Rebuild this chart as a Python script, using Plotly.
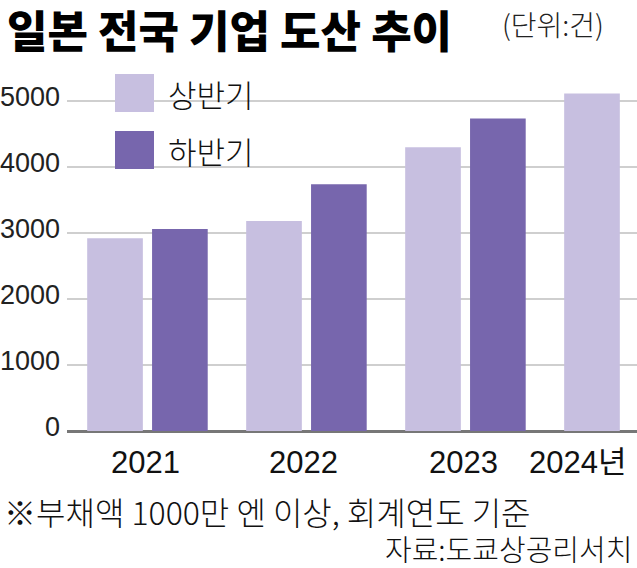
import plotly.graph_objects as go

# ---- data ----
years = ["2021", "2022", "2023", "2024"]
year_labels = ["2021", "2022", "2023", "2024년"]
h1_values = [2920, 3180, 4300, 5115]          # 상반기
h2_values = [3060, 3740, 4735, None]          # 하반기
series_names = ["상반기", "하반기"]
y_ticks = [0, 1000, 2000, 3000, 4000, 5000]

LIGHT = "#C7BFE0"
DARK = "#7766AD"
NUM = "Liberation Sans, Arial, sans-serif"
KR = "Noto Sans CJK KR, sans-serif"
MIX = "Liberation Sans, Noto Sans CJK KR, sans-serif"

W, H = 637, 568
L, R, T, B = 67, 0, 68, 137
PW, PH = W - L - R, H - T - B


def px(xp):
    return (xp - L) / PW


def py(yp):
    return (H - B - yp) / PH


xpos = list(range(len(years)))

fig = go.Figure()
fig.add_trace(go.Bar(x=xpos, y=h1_values, name=series_names[0],
                     marker=dict(color=LIGHT, line=dict(width=0)), showlegend=False))
fig.add_trace(go.Bar(x=xpos, y=h2_values, name=series_names[1],
                     marker=dict(color=DARK, line=dict(width=0)), showlegend=False))

annotations = []
# title
annotations.append(dict(text="일본 전국 기업 도산 추이", xref="paper", yref="paper",
                        x=px(5), y=py(29), xanchor="left", yanchor="middle", showarrow=False,
                        font=dict(family=KR, size=44, color="#000", weight=900)))
# title unit
annotations.append(dict(text="(단위:건)", xref="paper", yref="paper", x=px(500), y=py(24),
                        xanchor="left", yanchor="middle", showarrow=False,
                        font=dict(family=KR, size=28, color="#222", weight=300)))
# legend texts
for name, yc in zip(series_names, [93, 150]):
    annotations.append(dict(text=name, xref="paper", yref="paper", x=px(166), y=py(yc),
                            xanchor="left", yanchor="middle", showarrow=False,
                            font=dict(family=KR, size=31, color="#111", weight=300)))
# year labels
shifts = [-2, -3, -2, -47]
for xi, lab, sh in zip(xpos, year_labels, shifts):
    annotations.append(dict(text=lab, xref="x", yref="paper", x=xi, y=py(462), xshift=sh,
                            xanchor="center", yanchor="middle", showarrow=False,
                            font=dict(family=MIX, size=31, color="#111")))
# footnote and source
annotations.append(dict(text="※부채액 1000만 엔 이상, 회계연도 기준", xref="paper", yref="paper",
                        x=px(2), y=py(511), xanchor="left", yanchor="middle", showarrow=False,
                        font=dict(family=KR, size=32, color="#111", weight=300)))
annotations.append(dict(text="자료:도쿄상공리서치", xref="paper", yref="paper",
                        x=px(634), y=py(548), xanchor="right", yanchor="middle", showarrow=False,
                        font=dict(family=KR, size=29, color="#111", weight=300)))

shapes = []
for col, (y0, y1) in zip([LIGHT, DARK], [(74, 112), (131, 169)]):
    shapes.append(dict(type="rect", xref="paper", yref="paper",
                       x0=px(115), x1=px(154), y0=py(y1), y1=py(y0),
                       fillcolor=col, line=dict(width=0)))

fig.update_layout(
    width=W, height=H,
    margin=dict(l=L, r=R, t=T, b=B, pad=0, autoexpand=False),
    paper_bgcolor="white", plot_bgcolor="white",
    barmode="group", bargap=0.184, bargroupgap=0.142,
    xaxis=dict(type="linear", range=[-0.506, 3.079], showticklabels=False,
               showgrid=False, zeroline=False, showline=False, fixedrange=True,
               automargin=False),
    yaxis=dict(range=[0, 5500], tickvals=y_ticks, ticktext=[str(v) for v in y_ticks],
               showgrid=True, gridcolor="#CFCFCF", gridwidth=2,
               zeroline=True, zerolinecolor="#777", zerolinewidth=3,
               showline=False, ticks="", ticklabelstandoff=6, ticklabelshift=-4,
               automargin=False,
               tickfont=dict(family=NUM, size=27, color="#222")),
    annotations=annotations,
    shapes=shapes,
    showlegend=False,
)

fig.write_html("out.html")
